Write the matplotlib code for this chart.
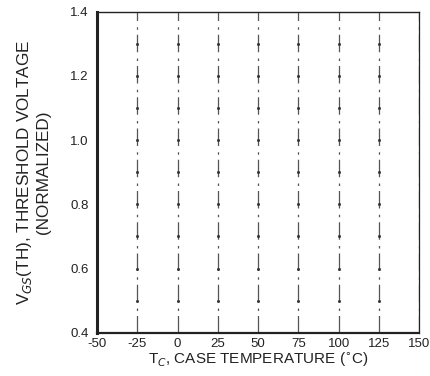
import numpy as np
import matplotlib.pyplot as plt

plt.rcParams['font.family'] = ['Liberation Sans', 'DejaVu Sans']

# axis values
temp_ticks = [-50, -25, 0, 25, 50, 75, 100, 125, 150]
volt_ticks = [0.4, 0.6, 0.8, 1.0, 1.2, 1.4]
volt_minor = [0.5, 0.7, 0.9, 1.1, 1.3]

fig = plt.figure(figsize=(4.31, 3.76), dpi=100)
ax = fig.add_axes([0.225, 0.115, 0.748, 0.854])

# vertical grid lines (broken, as on the scan)
for t in temp_ticks[1:]:
    ax.axvline(t, color='#555555', lw=0.9, ls=(0, (14, 4, 2, 5)))

# faint intersection dots where the horizontal grid used to be
tt, vv = np.meshgrid(temp_ticks[1:-1], volt_ticks[1:-1] + volt_minor)
ax.plot(tt.ravel(), vv.ravel(), 's', ms=1.0, color='#333333', ls='none')

ax.set_xlim(-50, 150)
ax.set_ylim(0.4, 1.4)
ax.set_xticks(temp_ticks)
ax.set_yticks(volt_ticks)
ax.set_xticklabels([str(t) for t in temp_ticks])
ax.set_yticklabels([f"{v:.1f}" for v in volt_ticks])
ax.tick_params(length=0, labelsize=9.5, colors='#222222')
ax.tick_params(axis='x', pad=4)
ax.tick_params(axis='y', pad=6)

ax.spines['left'].set_linewidth(2.2)
ax.spines['bottom'].set_linewidth(1.6)
ax.spines['top'].set_linewidth(1.0)
ax.spines['right'].set_linewidth(0.9)
for s in ax.spines.values():
    s.set_color('#222222')

ax.set_xlabel(r"T$_{C}$, CASE TEMPERATURE ($^{\circ}$C)", fontsize=11, labelpad=0, color='#222222')
ax.set_ylabel("V$_{GS}$(TH), THRESHOLD VOLTAGE\n(NORMALIZED)", fontsize=12.3, labelpad=14,
              color='#222222', linespacing=1.15)

plt.savefig("out.png", dpi=100)
